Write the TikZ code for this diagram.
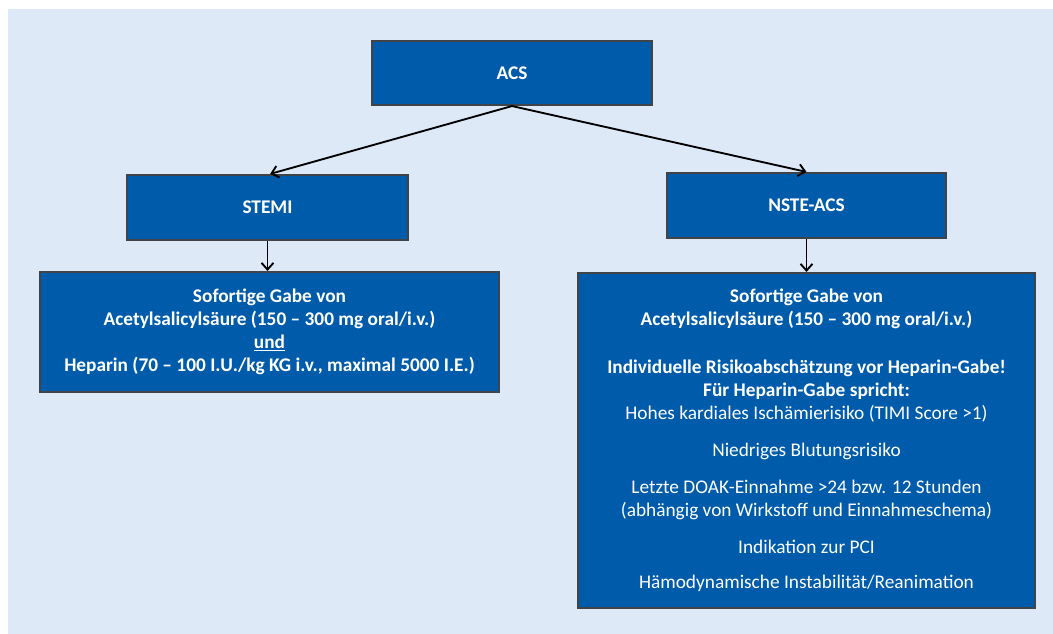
\documentclass[tikz,border=0pt]{standalone}
\usepackage{fontspec}
\setmainfont{Carlito}
\usetikzlibrary{arrows.meta}
\definecolor{bgblue}{HTML}{DDE9F6}
\definecolor{boxblue}{HTML}{005BAA}
\definecolor{boxedge}{HTML}{404448}
\tikzset{
  box/.style={draw=boxedge, line width=1.6pt, fill=boxblue, text=white, align=center, inner sep=0pt, font=\fontsize{14.5}{17.25}\selectfont},
  conn/.style={draw=black, line width=1.4pt, -{Straight Barb[length=5pt,width=9pt,line width=1.4pt]}}
}
\begin{document}
\begin{tikzpicture}[x=0.75pt,y=-0.75pt]
\useasboundingbox (0,0) rectangle (1053,634);
\fill[bgblue] (8,9) rectangle (1053,634);
\node[box, minimum width=210pt, minimum height=48pt] (acs) at (512,73) {\bfseries ACS};
\node[box, minimum width=210.75pt, minimum height=48.75pt] (stemi) at (267.5,207.5) {\bfseries STEMI};
\node[box, minimum width=209.25pt, minimum height=48.75pt] (nste) at (806.5,205.5) {\bfseries NSTE-ACS};
\node[box, minimum width=344.25pt, minimum height=90pt] (left) at (269.5,332) {\bfseries Sofortige Gabe von\\ \bfseries Acetylsalicylsäure (150 – 300 mg oral/i.v.)\\ \bfseries\underline{und}\\ \bfseries Heparin (70 – 100 I.U./kg KG i.v., maximal 5000 I.E.)};
\node[box, minimum width=342.75pt, minimum height=251.25pt] (right) at (806.5,440.5) {\bfseries Sofortige Gabe von\\ \bfseries Acetylsalicylsäure (150 – 300 mg oral/i.v.)\\[18.75pt] \bfseries Individuelle Risikoabschätzung vor Heparin-Gabe!\\ \bfseries Für Heparin-Gabe spricht:\\ Hohes kardiales Ischämierisiko (TIMI Score >1)\\[10.5pt] Niedriges Blutungsrisiko\\[10.5pt] Letzte DOAK-Einnahme >24 bzw. 12 Stunden\\ (abhängig von Wirkstoff und Einnahmeschema)\\[10.5pt] Indikation zur PCI\\[9pt] Hämodynamische Instabilität/Reanimation};
\draw[conn] (acs.south) -- ([xshift=2pt]stemi.north);
\draw[conn] (acs.south) -- (nste.north);
\draw[conn] (stemi.south) -- (left.north -| stemi.south);
\draw[conn] (nste.south) -- (right.north -| nste.south);
\end{tikzpicture}
\end{document}
